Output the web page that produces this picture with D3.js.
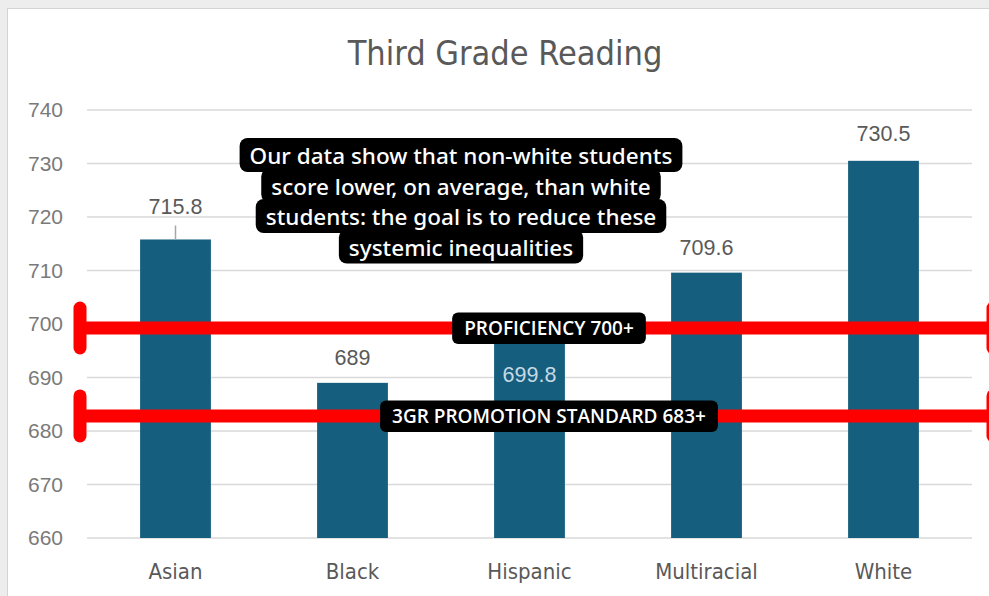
<!DOCTYPE html>
<html>
<head>
<meta charset="utf-8">
<script src="https://cdn.jsdelivr.net/npm/d3@7"></script>
<style>
  body { margin: 0; background: #ededed; }
  svg { display: block; }
</style>
</head>
<body>
<svg width="989" height="596"></svg>
<script>
// chart data
var categories = ["Asian", "Black", "Hispanic", "Multiracial", "White"];
var scores = [715.8, 689, 699.8, 709.6, 730.5];
var yTicks = [660, 670, 680, 690, 700, 710, 720, 730, 740];
var thresholdValues = [700, 683];
var thresholdLabels = ["PROFICIENCY 700+", "3GR PROMOTION STANDARD 683+"];
var calloutLines = [
  "Our data show that non-white students",
  "score lower, on average, than white",
  "students: the goal is to reduce these",
  "systemic inequalities"
];
var title = "Third Grade Reading";

var svg = d3.select("svg");
var narrow = "'DejaVu Sans Condensed', 'DejaVu Sans', sans-serif";

// white chart panel
svg.append("rect").attr("x", 0).attr("y", 0).attr("width", 989).attr("height", 596).attr("fill", "#ededed");
svg.append("rect").attr("x", 7.5).attr("y", 8.5).attr("width", 1000).attr("height", 600)
  .attr("fill", "white").attr("stroke", "#d4d4d4");

var x = d3.scaleBand().domain(categories).range([87, 972]).paddingInner(0.6).paddingOuter(0.3);
var y = d3.scaleLinear().domain([660, 740]).range([538, 110]);

svg.append("text").attr("x", 505).attr("y", 65).attr("text-anchor", "middle")
  .attr("font-family", narrow).attr("font-stretch", "condensed").attr("font-size", 34)
  .attr("fill", "#595959").text(title);

// gridlines
svg.append("g").selectAll("line").data(yTicks).enter().append("line")
  .attr("x1", 87).attr("x2", 972)
  .attr("y1", d => y(d)).attr("y2", d => y(d))
  .attr("stroke", "#d9d9d9").attr("stroke-width", 1.5);

var yAxis = svg.append("g").attr("transform", "translate(63,0)")
  .call(d3.axisLeft(y).tickValues(yTicks).tickSize(0).tickPadding(0));
yAxis.select(".domain").remove();
yAxis.selectAll("text").attr("font-family", "'Liberation Sans', Arial, sans-serif")
  .attr("font-size", 21).attr("fill", "#7a7a7a");

var xAxis = svg.append("g").attr("transform", "translate(0,538)")
  .call(d3.axisBottom(x).tickSize(0).tickPadding(25));
xAxis.select(".domain").remove();
xAxis.selectAll("text").attr("font-family", narrow).attr("font-stretch", "condensed")
  .attr("font-size", 22).attr("fill", "#595959");

// bars
svg.append("g").selectAll("rect").data(scores).enter().append("rect")
  .attr("x", (d, i) => x(categories[i]))
  .attr("y", d => y(d))
  .attr("width", x.bandwidth())
  .attr("height", d => y(660) - y(d))
  .attr("fill", "#165e7e");

// value labels (Asian moved up with leader, Hispanic inside bar)
var labelShift = [-25, -18, 57, -18, -20];
svg.append("g").selectAll("text").data(scores).enter().append("text")
  .attr("x", (d, i) => x(categories[i]) + x.bandwidth() / 2)
  .attr("y", (d, i) => y(d) + labelShift[i])
  .attr("text-anchor", "middle")
  .attr("font-family", "'Liberation Sans', Arial, sans-serif").attr("font-size", 21.5)
  .attr("fill", (d, i) => i == 2 ? "#c5d9e4" : "#595959")
  .text(d => d);
svg.append("line")
  .attr("x1", x("Asian") + x.bandwidth() / 2).attr("x2", x("Asian") + x.bandwidth() / 2)
  .attr("y1", y(scores[0]) - 14).attr("y2", y(scores[0]))
  .attr("stroke", "#a6a6a6").attr("stroke-width", 1.5);

// red threshold lines
var thr = svg.append("g");
thresholdValues.forEach(function (v, i) {
  var ly = y(v) + (i == 0 ? 4 : 1);
  thr.append("line").attr("x1", 80).attr("x2", 993).attr("y1", ly).attr("y2", ly)
    .attr("stroke", "#ff0000").attr("stroke-width", 13);
  [80, 993].forEach(function (cx) {
    thr.append("line").attr("x1", cx).attr("x2", cx).attr("y1", ly - 20).attr("y2", ly + 20)
      .attr("stroke", "#ff0000").attr("stroke-width", 13).attr("stroke-linecap", "round");
  });
  var t = thr.append("text").attr("x", 549).attr("y", ly + 7).attr("text-anchor", "middle")
    .attr("font-family", "'Open Sans', sans-serif").attr("font-weight", 600).attr("font-size", 19)
    .attr("fill", "white").text(thresholdLabels[i]);
  var b = t.node().getBBox();
  thr.insert("rect", "text:last-child")
    .attr("x", b.x - 12).attr("y", ly - 15.5).attr("width", b.width + 24).attr("height", 31.5)
    .attr("rx", 6).attr("fill", "black");
});

// callout
var cg = svg.append("g");
var boxes = cg.append("g");
calloutLines.forEach(function (s, i) {
  var ty = 164 + i * 30.5;
  var t = cg.append("text").attr("x", 461).attr("y", ty).attr("text-anchor", "middle")
    .attr("font-family", "'Noto Sans', sans-serif").attr("font-weight", 500).attr("font-size", 22.5)
    .attr("fill", "white").text(s);
  var b = t.node().getBBox();
  boxes.append("rect").attr("x", b.x - 10).attr("y", ty - 26).attr("width", b.width + 20).attr("height", 34)
    .attr("rx", 8).attr("fill", "black");
});
</script>
</body>
</html>
